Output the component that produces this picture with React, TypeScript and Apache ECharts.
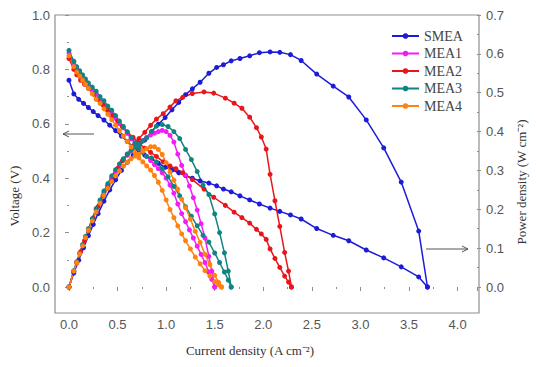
import React, { useEffect, useRef } from "react";
import * as echarts from "echarts";

// ---------- data ----------
const seriesNames = ["SMEA", "MEA1", "MEA2", "MEA3", "MEA4"];
const seriesColors = ["#1c1cd8", "#f41cf4", "#e8161b", "#0f8582", "#ff820f"];

const xTicks = [0, 0.5, 1.0, 1.5, 2.0, 2.5, 3.0, 3.5, 4.0];
const voltageTicks = [0, 0.2, 0.4, 0.6, 0.8, 1.0];
const powerTicks = [0, 0.1, 0.2, 0.3, 0.4, 0.5, 0.6, 0.7];

const smeaCurrent = [0, 0.05, 0.10, 0.15, 0.20, 0.25, 0.30, 0.36, 0.42, 0.48, 0.54, 0.60, 0.66, 0.72, 0.78, 0.85, 0.92, 0.99, 1.06, 1.13, 1.20, 1.27, 1.35, 1.44, 1.52, 1.59, 1.67, 1.76, 1.86, 1.96, 2.07, 2.17, 2.28, 2.39, 2.55, 2.72, 2.88, 3.06, 3.24, 3.42, 3.60, 3.69];
const smeaVoltage = [0.76, 0.71, 0.69, 0.675, 0.66, 0.645, 0.63, 0.614, 0.595, 0.575, 0.555, 0.535, 0.515, 0.50, 0.485, 0.47, 0.455, 0.44, 0.43, 0.42, 0.41, 0.40, 0.39, 0.382, 0.372, 0.36, 0.35, 0.335, 0.32, 0.305, 0.29, 0.278, 0.265, 0.25, 0.215, 0.19, 0.17, 0.136, 0.107, 0.074, 0.037, 0.0];
const smeaPower = [0, 0.036, 0.069, 0.101, 0.132, 0.161, 0.189, 0.221, 0.25, 0.276, 0.30, 0.321, 0.34, 0.36, 0.378, 0.40, 0.419, 0.436, 0.456, 0.475, 0.495, 0.51, 0.527, 0.55, 0.565, 0.572, 0.582, 0.588, 0.595, 0.603, 0.605, 0.604, 0.598, 0.583, 0.548, 0.517, 0.489, 0.43, 0.358, 0.27, 0.144, 0.0];

const mea1Current = [0, 0.05, 0.08, 0.11, 0.14, 0.17, 0.20, 0.24, 0.28, 0.32, 0.36, 0.40, 0.44, 0.48, 0.52, 0.56, 0.60, 0.64, 0.68, 0.72, 0.76, 0.80, 0.84, 0.88, 0.92, 0.96, 1.00, 1.04, 1.08, 1.12, 1.16, 1.20, 1.24, 1.28, 1.32, 1.36, 1.40, 1.44, 1.47, 1.50];
const mea1Voltage = [0.86, 0.82, 0.80, 0.785, 0.77, 0.755, 0.74, 0.725, 0.71, 0.69, 0.675, 0.655, 0.64, 0.62, 0.60, 0.585, 0.565, 0.545, 0.53, 0.51, 0.495, 0.48, 0.465, 0.45, 0.435, 0.42, 0.40, 0.375, 0.345, 0.305, 0.27, 0.24, 0.21, 0.18, 0.15, 0.12, 0.09, 0.055, 0.028, 0.0];
const mea1Power = [0, 0.041, 0.064, 0.086, 0.108, 0.128, 0.148, 0.174, 0.199, 0.221, 0.243, 0.262, 0.282, 0.298, 0.312, 0.328, 0.339, 0.349, 0.36, 0.367, 0.376, 0.384, 0.391, 0.396, 0.40, 0.403, 0.40, 0.39, 0.373, 0.342, 0.313, 0.288, 0.26, 0.23, 0.198, 0.163, 0.126, 0.079, 0.041, 0.0];

const mea2Current = [0, 0.05, 0.08, 0.12, 0.16, 0.20, 0.25, 0.30, 0.35, 0.40, 0.45, 0.50, 0.55, 0.60, 0.66, 0.72, 0.78, 0.84, 0.90, 0.97, 1.04, 1.10, 1.17, 1.27, 1.39, 1.49, 1.61, 1.70, 1.78, 1.86, 1.93, 1.98, 2.03, 2.07, 2.12, 2.17, 2.22, 2.26, 2.29];
const mea2Voltage = [0.84, 0.80, 0.78, 0.76, 0.745, 0.73, 0.71, 0.69, 0.67, 0.65, 0.63, 0.61, 0.59, 0.57, 0.55, 0.53, 0.51, 0.495, 0.48, 0.46, 0.445, 0.435, 0.42, 0.395, 0.36, 0.33, 0.30, 0.275, 0.255, 0.235, 0.212, 0.195, 0.175, 0.14, 0.105, 0.072, 0.04, 0.018, 0.0];
const mea2Power = [0, 0.04, 0.062, 0.091, 0.119, 0.146, 0.178, 0.207, 0.235, 0.26, 0.284, 0.305, 0.325, 0.342, 0.363, 0.382, 0.398, 0.416, 0.432, 0.446, 0.463, 0.479, 0.488, 0.498, 0.502, 0.499, 0.486, 0.473, 0.46, 0.437, 0.41, 0.386, 0.355, 0.29, 0.222, 0.156, 0.089, 0.041, 0.0];

const mea3Current = [0, 0.05, 0.08, 0.11, 0.14, 0.17, 0.20, 0.24, 0.28, 0.32, 0.36, 0.40, 0.44, 0.48, 0.52, 0.56, 0.60, 0.64, 0.68, 0.72, 0.76, 0.80, 0.85, 0.90, 0.96, 1.02, 1.08, 1.14, 1.20, 1.26, 1.32, 1.38, 1.44, 1.50, 1.55, 1.60, 1.64, 1.67];
const mea3Voltage = [0.87, 0.83, 0.81, 0.795, 0.78, 0.765, 0.75, 0.735, 0.72, 0.70, 0.685, 0.665, 0.65, 0.63, 0.61, 0.59, 0.57, 0.55, 0.53, 0.51, 0.495, 0.48, 0.475, 0.46, 0.435, 0.405, 0.37, 0.335, 0.295, 0.26, 0.225, 0.19, 0.165, 0.125, 0.09, 0.055, 0.025, 0.0];
const mea3Power = [0, 0.042, 0.065, 0.087, 0.109, 0.13, 0.15, 0.176, 0.202, 0.224, 0.247, 0.266, 0.286, 0.302, 0.317, 0.33, 0.342, 0.352, 0.36, 0.367, 0.376, 0.384, 0.40, 0.414, 0.418, 0.413, 0.40, 0.382, 0.354, 0.328, 0.297, 0.262, 0.238, 0.188, 0.14, 0.088, 0.041, 0.0];

const mea4Current = [0, 0.05, 0.08, 0.11, 0.14, 0.17, 0.20, 0.24, 0.28, 0.32, 0.36, 0.40, 0.44, 0.48, 0.52, 0.56, 0.60, 0.64, 0.68, 0.72, 0.76, 0.80, 0.84, 0.88, 0.92, 0.96, 1.00, 1.04, 1.08, 1.12, 1.16, 1.20, 1.25, 1.30, 1.35, 1.40, 1.45, 1.50, 1.54, 1.57];
const mea4Voltage = [0.85, 0.81, 0.79, 0.775, 0.76, 0.745, 0.73, 0.71, 0.69, 0.675, 0.655, 0.635, 0.615, 0.595, 0.575, 0.555, 0.535, 0.515, 0.495, 0.475, 0.46, 0.445, 0.43, 0.41, 0.385, 0.355, 0.32, 0.285, 0.255, 0.225, 0.195, 0.17, 0.14, 0.11, 0.085, 0.06, 0.04, 0.02, 0.008, 0.0];
const mea4Power = [0, 0.041, 0.063, 0.085, 0.106, 0.127, 0.146, 0.17, 0.193, 0.216, 0.236, 0.254, 0.271, 0.286, 0.299, 0.311, 0.321, 0.33, 0.337, 0.342, 0.35, 0.356, 0.361, 0.361, 0.354, 0.341, 0.32, 0.296, 0.275, 0.252, 0.226, 0.204, 0.175, 0.143, 0.115, 0.084, 0.058, 0.03, 0.012, 0.0];

const currents = [smeaCurrent, mea1Current, mea2Current, mea3Current, mea4Current];
const voltages = [smeaVoltage, mea1Voltage, mea2Voltage, mea3Voltage, mea4Voltage];
const powers = [smeaPower, mea1Power, mea2Power, mea3Power, mea4Power];

// ---------- styling ----------
const W = 536;
const H = 367;
const frame = { left: 55, top: 15, right: 479, bottom: 313 };
const axisColor = "#8f8f8f";
const labelColor = "#555555";
const sansFont = "'Liberation Sans', Arial, sans-serif";
const serifFont = "'Liberation Serif', 'Times New Roman', serif";

const onTick = (v: number, ticks: number[]) =>
  ticks.some((t) => Math.abs(t - v) < 1e-6) ? v.toFixed(1) : "";

export default function App() {
  const ref = useRef<HTMLDivElement>(null);

  useEffect(() => {
    if (!ref.current) return;
    const chart = echarts.init(ref.current, undefined, { renderer: "svg" });

    const series: any[] = [];
    seriesNames.forEach((name, i) => {
      const common = {
        name,
        type: "line",
        symbol: "circle",
        symbolSize: 5,
        clip: false,
        color: seriesColors[i],
        lineStyle: { width: 1.5, color: seriesColors[i] },
        itemStyle: { color: seriesColors[i] },
        emphasis: { disabled: true },
      };
      series.push({
        ...common,
        yAxisIndex: 0,
        data: currents[i].map((c, k) => [c, voltages[i][k]]),
      });
      series.push({
        ...common,
        yAxisIndex: 1,
        data: currents[i].map((c, k) => [c, powers[i][k]]),
      });
    });

    const tickStyle = { lineStyle: { color: axisColor, width: 1 } };
    const tickLabel = { color: labelColor, fontSize: 13, fontFamily: sansFont };

    const option: any = {
      animation: false,
      backgroundColor: "#ffffff",
      grid: {
        left: 65,
        right: W - frame.right,
        top: frame.top,
        bottom: H - 287,
        containLabel: false,
      },
      legend: {
        orient: "vertical",
        left: 386,
        top: 24,
        itemWidth: 27,
        itemHeight: 7,
        itemGap: 3.5,
        data: seriesNames,
        textStyle: {
          fontFamily: serifFont,
          fontSize: 14,
          color: "#444",
          lineHeight: 14,
        },
      },
      xAxis: {
        type: "value",
        min: 0,
        max: 4.2,
        interval: 0.5,
        offset: 26,
        axisLine: { show: false },
        axisTick: { show: true, inside: false, length: 4, ...tickStyle },
        minorTick: { show: true, splitNumber: 2, length: 2, ...tickStyle },
        splitLine: { show: false },
        axisLabel: {
          margin: 5,
          ...tickLabel,
          formatter: (v: number) => onTick(v, xTicks),
        },
        name: "Current density (A cm⁻²)",
        nameLocation: "middle",
        nameGap: 31,
        nameTextStyle: {
          fontFamily: serifFont,
          fontSize: 13,
          color: "#333",
          padding: [0, 46, 0, 0],
        },
      },
      yAxis: [
        {
          type: "value",
          position: "left",
          min: 0,
          max: 1.0,
          interval: 0.2,
          offset: 10,
          axisLine: { show: false },
          axisTick: { show: true, inside: false, length: 4, ...tickStyle },
          minorTick: { show: true, splitNumber: 2, length: 2, ...tickStyle },
          splitLine: { show: false },
          axisLabel: {
            margin: 9,
            ...tickLabel,
            formatter: (v: number) => onTick(v, voltageTicks),
          },
          name: "Voltage (V)",
          nameLocation: "middle",
          nameRotate: 90,
          nameGap: 36,
          nameTextStyle: {
            fontFamily: serifFont,
            fontSize: 13,
            color: "#333",
            padding: [0, 90, 0, 0],
          },
        },
        {
          type: "value",
          position: "right",
          min: 0,
          max: 0.7,
          interval: 0.1,
          axisLine: { show: false },
          axisTick: { show: true, inside: false, length: 4, ...tickStyle },
          minorTick: { show: true, splitNumber: 2, length: 2, ...tickStyle },
          splitLine: { show: false },
          axisLabel: {
            margin: 9,
            ...tickLabel,
            formatter: (v: number) => onTick(v, powerTicks),
          },
          name: "Power density (W cm⁻²)",
          nameLocation: "middle",
          nameRotate: 90,
          nameGap: 38,
          nameTextStyle: {
            fontFamily: serifFont,
            fontSize: 13,
            color: "#333",
            padding: [0, 62, 0, 0],
          },
        },
      ],
      graphic: [
        {
          type: "rect",
          silent: true,
          z: 0,
          shape: {
            x: frame.left,
            y: frame.top,
            width: frame.right - frame.left,
            height: frame.bottom - frame.top,
          },
          style: { fill: "none", stroke: axisColor, lineWidth: 1.2 },
        },
        {
          type: "line",
          silent: true,
          shape: { x1: 94, y1: 134, x2: 63, y2: 134 },
          style: { stroke: "#555", lineWidth: 1 },
        },
        {
          type: "polyline",
          silent: true,
          shape: { points: [[69, 131], [63, 134], [69, 137]] },
          style: { stroke: "#555", lineWidth: 1, fill: "none" },
        },
        {
          type: "line",
          silent: true,
          shape: { x1: 426, y1: 249, x2: 468, y2: 249 },
          style: { stroke: "#555", lineWidth: 1 },
        },
        {
          type: "polyline",
          silent: true,
          shape: { points: [[462, 246], [468, 249], [462, 252]] },
          style: { stroke: "#555", lineWidth: 1, fill: "none" },
        },
      ],
      series,
    };

    chart.setOption(option);
    return () => chart.dispose();
  }, []);

  return <div ref={ref} style={{ width: W, height: H, position: "absolute", left: 0, top: 0 }} />;
}
